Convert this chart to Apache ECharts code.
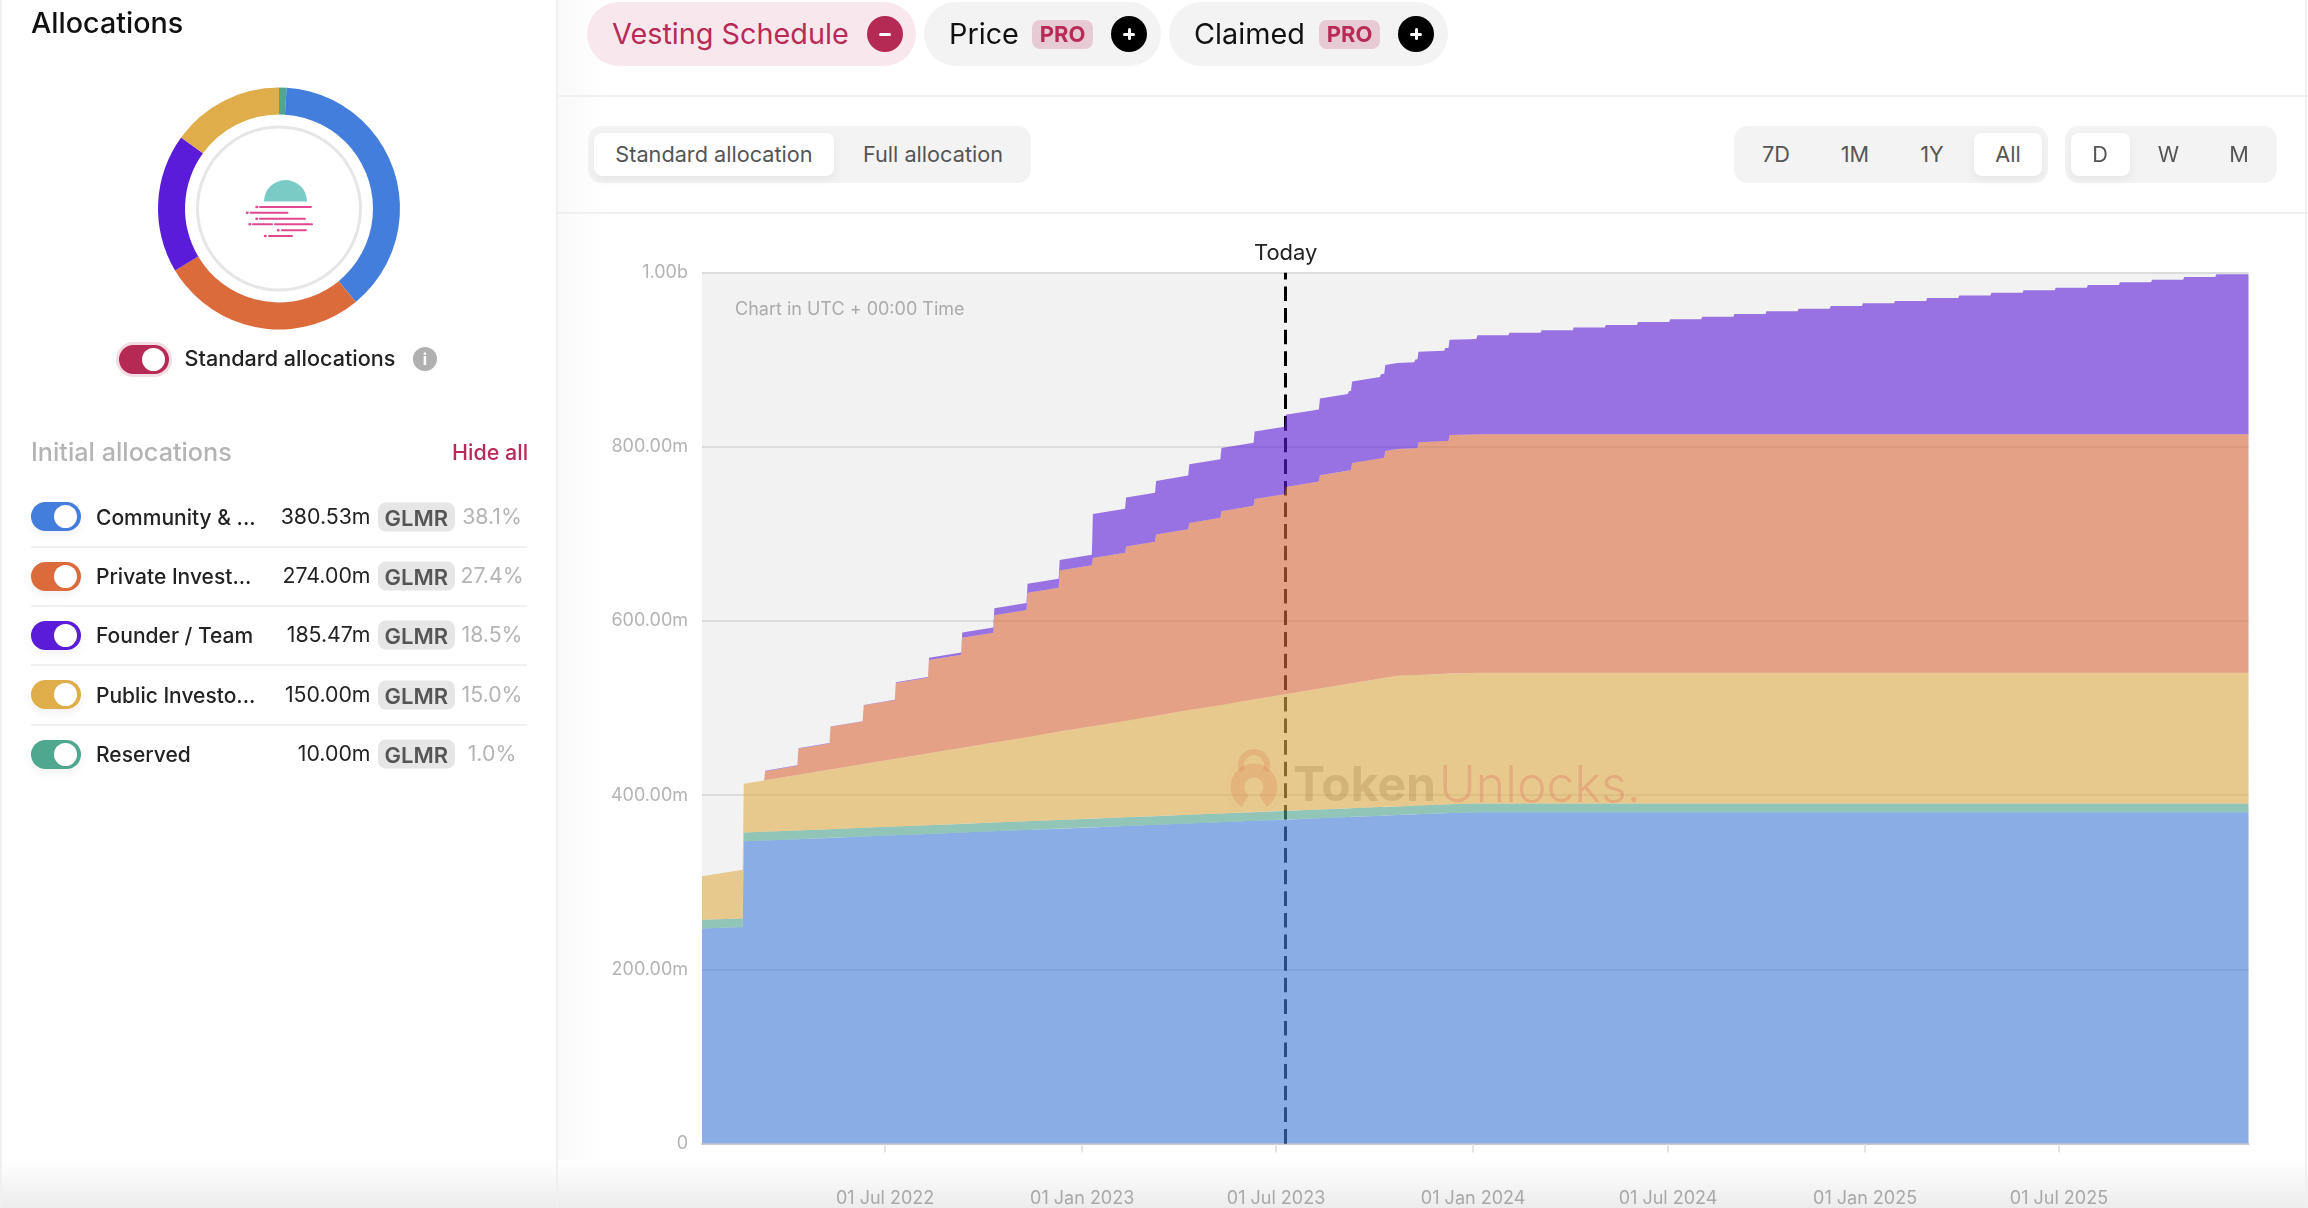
<!DOCTYPE html>
<html>
<head>
<meta charset="utf-8">
<title>Allocations</title>
<script src="https://cdn.jsdelivr.net/npm/echarts@6/dist/echarts.min.js"></script>
<style>
  html, body { margin: 0; padding: 0; background: #fff; }
  body { width: 2308px; height: 1208px; overflow: hidden; position: relative; font-family: Inter, sans-serif; color: #222; }
  #chart { position: absolute; left: 0; top: 0; width: 2308px; height: 1208px; }
  .abs { position: absolute; white-space: nowrap; }
  .mid { transform: translateY(-50%); line-height: 1; }
  .shade { position: absolute; left: 0; right: 0; top: 1160px; height: 48px; background: linear-gradient(#ffffff, #ececec); }
  .shade2 { position: absolute; left: 558px; top: 0; width: 50px; height: 1208px; background: linear-gradient(90deg, #f9f9f9, #ffffff); }
  .line { position: absolute; background: #f0f0f0; }
  .toggle { position: absolute; width: 50px; height: 29px; border-radius: 15px; box-shadow: 0 5px 8px rgba(0,0,0,.05); }
  .toggle i { position: absolute; right: 4px; top: 3px; width: 23px; height: 23px; border-radius: 50%; background: #fff; }
  .pill { position: absolute; top: 2px; height: 64px; border-radius: 32px; background: #f3f3f3; }
  .round { position: absolute; width: 36px; height: 36px; top: 16px; border-radius: 50%; background: #000; }
  .round b { position: absolute; left: 12px; top: 16.5px; width: 12px; height: 3px; background: #fff; border-radius: 2px; }
  .round u { position: absolute; left: 16.5px; top: 12px; width: 3px; height: 12px; background: #fff; border-radius: 2px; }
  .pro { position: absolute; top: 20px; height: 29px; width: 61px; border-radius: 8px; background: #e7cbd4; color: #b82b57; font-size: 22px; font-weight: 700; line-height: 29px; text-align: center; }
  .seg { position: absolute; top: 126px; height: 57px; border-radius: 14px; background: #f3f3f3; }
  .seg-on { position: absolute; top: 133px; height: 43px; border-radius: 8px; background: #fff; box-shadow: 0 4px 8px rgba(0,0,0,.06); }
  .seg-t { position: absolute; top: 154.5px; transform: translate(-50%, -50%); font-size: 21.7px; color: #555; line-height: 1; white-space: nowrap; }
  .glmr { position: absolute; left: 377.5px; width: 77.5px; height: 29px; border-radius: 8px; background: #e6e6e6; color: #555; font-size: 22px; font-weight: 600; line-height: 31px; text-align: center; transform: translateY(-50%); }
</style>
</head>
<body>
<div class="shade2"></div>
<div class="shade"></div>
<div id="chart"></div>
<div id="chrome"></div>
<script>
// values in millions of GLMR, one entry per date below
const dates = [
  '2022-01-11','2022-02-18','2022-02-19','2022-03-10','2022-03-11','2022-04-10','2022-04-11','2022-05-10','2022-05-11','2022-06-10',
  '2022-06-11','2022-07-10','2022-07-11','2022-08-10','2022-08-11','2022-09-10','2022-09-11','2022-10-10','2022-10-11','2022-11-10',
  '2022-11-11','2022-12-10','2022-12-11','2023-01-10','2023-01-11','2023-02-10','2023-02-11','2023-03-10','2023-03-11','2023-04-10',
  '2023-04-11','2023-05-10','2023-05-11','2023-06-10','2023-06-11','2023-07-09','2023-07-10','2023-08-10','2023-08-11','2023-09-06',
  '2023-09-07','2023-09-09','2023-09-10','2023-10-06','2023-10-07','2023-10-10','2023-10-11','2023-10-22','2023-11-07','2023-11-08',
  '2023-11-10','2023-11-11','2023-12-05','2023-12-06','2023-12-09','2023-12-10','2023-12-29','2024-01-04','2024-01-05','2024-02-03',
  '2024-02-04','2024-03-04','2024-03-05','2024-04-03','2024-04-04','2024-05-03','2024-05-04','2024-06-02','2024-06-03','2024-07-02',
  '2024-07-03','2024-08-01','2024-08-02','2024-08-31','2024-09-01','2024-09-30','2024-10-01','2024-10-30','2024-10-31','2024-11-29',
  '2024-11-30','2024-12-29','2024-12-30','2025-01-28','2025-01-29','2025-02-27','2025-02-28','2025-03-29','2025-03-30','2025-04-28',
  '2025-04-29','2025-05-28','2025-05-29','2025-06-27','2025-06-28','2025-07-27','2025-07-28','2025-08-26','2025-08-27','2025-09-25',
  '2025-09-26','2025-10-25','2025-10-26','2025-11-24','2025-11-25','2025-12-25'
];
const community = [
  247,248.5,347,347.9,348,349.5,349.5,350.9,351,352.5,
  352.5,353.9,354,355.5,355.5,357,357.1,358.5,358.6,360.1,
  360.1,361.5,361.6,363,363.1,364.6,364.6,365.9,366,367.5,
  367.6,369,369,370.5,370.6,371.9,372,373.5,373.6,374.8,
  374.9,375,375.1,376.3,376.4,376.5,376.6,377.1,377.9,378,
  378.1,378.1,379.3,379.4,379.5,379.6,380.2,380.5,380.53,380.53,
  380.53,380.53,380.53,380.53,380.53,380.53,380.53,380.53,380.53,380.53,
  380.53,380.53,380.53,380.53,380.53,380.53,380.53,380.53,380.53,380.53,
  380.53,380.53,380.53,380.53,380.53,380.53,380.53,380.53,380.53,380.53,
  380.53,380.53,380.53,380.53,380.53,380.53,380.53,380.53,380.53,380.53,
  380.53,380.53,380.53,380.53,380.53,380.53
];
const reserved = [
  10,10,10,10,10,10,10,10,10,10, 10,10,10,10,10,10,10,10,10,10,
  10,10,10,10,10,10,10,10,10,10, 10,10,10,10,10,10,10,10,10,10,
  10,10,10,10,10,10,10,10,10,10, 10,10,10,10,10,10,10,10,10,10,
  10,10,10,10,10,10,10,10,10,10, 10,10,10,10,10,10,10,10,10,10,
  10,10,10,10,10,10,10,10,10,10, 10,10,10,10,10,10,10,10,10,10,
  10,10,10,10,10,10
];
const publicInvestors = [
  50,56,56,58.9,59.1,63.8,63.9,68.4,68.5,73,
  73.2,77.7,77.9,82.4,82.6,87.2,87.4,91.8,92,96.6,
  96.8,101.2,101.4,106,106.2,110.8,111,115.1,115.3,119.9,
  120.1,124.5,124.7,129.3,129.5,133.8,134,138.7,138.9,142.9,
  143,143.3,143.5,147.5,147.6,148.1,148.2,150,150,150,
  150,150,150,150,150,150,150,150,150,150,
  150,150,150,150,150,150,150,150,150,150,
  150,150,150,150,150,150,150,150,150,150,
  150,150,150,150,150,150,150,150,150,150,
  150,150,150,150,150,150,150,150,150,150,
  150,150,150,150,150,150
];
const privateInvestors = [
  0,0,0,0,10.5,10.5,30,30,49,49,
  67.5,67.5,87,87,107,107,126.3,126.3,146,146,
  165.5,165.5,185,185,193,193,200,200,208,208,
  215,215,222.5,222.5,230,230,238,238,245,245,
  245,245,253,253,253,253,260.5,260.5,260.5,260.5,
  260.5,267.3,267.3,267.3,267.3,274,274,274,274,274,
  274,274,274,274,274,274,274,274,274,274,
  274,274,274,274,274,274,274,274,274,274,
  274,274,274,274,274,274,274,274,274,274,
  274,274,274,274,274,274,274,274,274,274,
  274,274,274,274,274,274
];
const founderTeam = [
  0,0,0,0,0.5,0.5,0.5,0.5,0.5,0.5,
  0.5,0.5,0.7,0.7,2.7,2.7,6.1,6.1,8,8,
  10.3,10.3,12.2,12.2,50.5,50.5,56.3,56.3,61.6,61.6,
  67.4,67.4,72.4,72.4,77.4,77.4,82.8,82.8,88.1,88.1,
  91.1,91.1,93.5,93.5,96.5,96.5,98.8,98.8,98.8,101.8,
  101.8,103.8,103.8,106.8,106.8,109.5,109.5,109.5,113.5,113.5,
  116.5,116.5,119.5,119.5,122.5,122.5,125.5,125.5,128.9,128.9,
  131.9,131.9,135,135,138,138,141.1,141.1,144.2,144.2,
  147.2,147.2,150.3,150.3,153,153,156.4,156.4,159.4,159.4,
  162.5,162.5,165.2,165.2,168.3,168.3,171.3,171.3,174.4,174.4,
  177.5,177.5,180.6,180.6,183.6,183.6
];

const tickDates = ['2022-07-01','2023-01-01','2023-07-01','2024-01-01','2024-07-01','2025-01-01','2025-07-01'];
const todayDate = '2023-07-10';

// legend table on the left
const allocNames = ['Community & ...', 'Private Invest...', 'Founder / Team', 'Public Investo...', 'Reserved'];
const allocAmounts = [380.53, 274.00, 185.47, 150.00, 10.00];
const allocPercents = ['38.1%', '27.4%', '18.5%', '15.0%', '1.0%'];
const allocColors = ['#447edc', '#dc6b3c', '#5b1cd9', '#e0ad4b', '#4fa78f'];

const months = ['Jan','Feb','Mar','Apr','May','Jun','Jul','Aug','Sep','Oct','Nov','Dec'];
const toSeries = (vals) => vals.map((v, i) => [Date.parse(dates[i]), v]);

const areaSeries = (name, vals, color) => ({
  name: name,
  type: 'line',
  stack: 'total',
  z: 3,
  symbol: 'none',
  showSymbol: false,
  silent: true,
  lineStyle: { width: 0 },
  itemStyle: { color: color },
  areaStyle: { color: color, opacity: 0.6 },
  data: toSeries(vals)
});

const chart = echarts.init(document.getElementById('chart'), null, { renderer: 'canvas' });
const tickStamps = tickDates.map(d => Date.parse(d));
const xMin = Date.parse('2022-01-11');
const xMax = Date.parse('2025-12-25');

chart.setOption({
  animation: false,
  backgroundColor: 'transparent',
  textStyle: { fontFamily: 'Inter' },
  grid: { left: 702, right: 59.5, top: 272.7, bottom: 64.5, show: true, backgroundColor: '#f2f2f2', borderWidth: 0 },
  xAxis: [
    {
      // the time axis places the data, the value axis below only draws the half-year ticks
      type: 'time',
      min: xMin,
      max: xMax,
      axisLine: { show: false },
      axisTick: { show: false },
      axisLabel: { show: false },
      splitLine: { show: false }
    },
    {
      type: 'value',
      position: 'bottom',
      min: xMin,
      max: xMax,
      axisLine: { lineStyle: { color: '#c9c9d2', width: 2 } },
      axisTick: { length: 9, lineStyle: { color: '#dcdcdc', width: 1.5 }, customValues: tickStamps },
      axisLabel: {
        customValues: tickStamps,
        margin: 46,
        fontSize: 18,
        color: '#a8a8a8',
        fontFamily: 'Inter',
        formatter: (v) => {
          const d = new Date(v);
          return '01 ' + months[d.getUTCMonth()] + ' ' + d.getUTCFullYear();
        }
      },
      splitLine: { show: false }
    }
  ],
  yAxis: {
    type: 'value',
    min: 0,
    max: 1000,
    interval: 200,
    axisLine: { show: false },
    axisTick: { show: false },
    axisLabel: {
      margin: 14,
      fontSize: 18,
      color: '#b4b4b4',
      fontFamily: 'Inter',
      padding: [5, 0, 0, 0],
      formatter: (v) => (v === 0 ? '0' : v === 1000 ? '1.00b' : v.toFixed(2) + 'm')
    },
    splitLine: { show: true, lineStyle: { color: '#dcdcdc', width: 2 } }
  },
  series: [
    areaSeries('Community', community, allocColors[0]),
    areaSeries('Reserved', reserved, allocColors[4]),
    areaSeries('Public Investors', publicInvestors, allocColors[3]),
    areaSeries('Private Investors', privateInvestors, allocColors[1]),
    areaSeries('Founder / Team', founderTeam, allocColors[2]),
    {
      // carries the today marker, drawn under the areas
      type: 'line',
      z: 1,
      silent: true,
      symbol: 'none',
      data: [],
      markLine: {
        z: 1,
        silent: true,
        symbol: 'none',
        animation: false,
        lineStyle: { color: '#000', width: 3, type: [14.6, 7], opacity: 1 },
        label: { show: true, position: 'end', distance: 8, formatter: 'Today', fontSize: 22, color: '#222', fontFamily: 'Inter' },
        data: [{ xAxis: Date.parse(todayDate) }]
      }
    },
    {
      type: 'pie',
      center: [279, 208.5],
      radius: [94, 121],
      startAngle: 90,
      silent: true,
      label: { show: false },
      labelLine: { show: false },
      data: [4, 0, 1, 2, 3].map(i => ({ name: allocNames[i], value: allocAmounts[i], itemStyle: { color: allocColors[i] } }))
    }
  ],
  graphic: [
    { type: 'ring', shape: { cx: 279, cy: 208.5, r: 83, r0: 80 }, style: { fill: '#e6e6e6' } },
    { type: 'text', x: 735, y: 310, style: { text: 'Chart in UTC + 00:00 Time', fontSize: 18, fontFamily: 'Inter', fill: '#ababab', textVerticalAlign: 'middle' } },
    // watermark: lock, then the wordmark
    { type: 'sector', z: 50, shape: { cx: 1254, cy: 765, r: 16, r0: 10, startAngle: Math.PI * 0.85, endAngle: Math.PI * 2.15 }, style: { fill: 'rgba(222,140,90,.35)' } },
    { type: 'sector', z: 50, shape: { cx: 1254, cy: 787, r: 23.5, r0: 9.5, startAngle: Math.PI * 0.68, endAngle: Math.PI * 2.32 }, style: { fill: 'rgba(222,140,90,.35)' } },
    { type: 'ring', z: 50, shape: { cx: 1254, cy: 787, r: 28, r0: 27 }, style: { fill: 'rgba(222,140,90,.1)' } },
    { type: 'text', z: 50, x: 1293, y: 787, style: { text: 'Token', fontSize: 48, fontWeight: 700, fontFamily: 'Inter', fill: 'rgba(170,130,70,.3)', textVerticalAlign: 'middle' } },
    { type: 'text', z: 50, x: 1439, y: 787, style: { text: 'Unlocks.', fontSize: 50, fontWeight: 300, fontFamily: 'Inter', fill: 'rgba(225,130,100,.4)', textVerticalAlign: 'middle' } }
  ]
});

// page furniture around the chart
const chrome = document.getElementById('chrome');
const put = (html) => chrome.insertAdjacentHTML('beforeend', html);
const text = (str, x, y, size, color, weight, extra) =>
  put(`<div class="abs mid" style="left:${x}px;top:${y}px;font-size:${size}px;color:${color};font-weight:${weight || 400};${extra || ''}">${str}</div>`);
const rule = (x, y, w, h) => put(`<div class="line" style="left:${x}px;top:${y}px;width:${w}px;height:${h}px"></div>`);

rule(0, 0, 2, 1208);
rule(556, 0, 2, 1208);
rule(2305, 0, 2, 1208);
rule(558, 95, 1750, 2);
rule(558, 212, 1750, 2);

text('Allocations', 31, 23, 28.7, '#111', 500);

// moonbeam logo in the middle of the donut
put(`<svg class="abs" style="left:0;top:0" width="560" height="300">
  <path d="M264 201.5a21.5 21.5 0 0 1 43 0z" fill="#7acbc5"/>
  <g stroke="#e1488f" stroke-width="2" stroke-linecap="round">
    <path d="M260 207h51M250.500 212.700h37M260 218.700h45M253 224.300h19M275 224.300h37M282 230.300h24M269 236h23"/>
    <path d="M256.500 207h.5M247 212.700h.5M256.500 218.700h.5M249.500 224.300h.5M278 230.300h.5M265 236h.5" stroke-width="2.500"/>
  </g>
</svg>`);

put(`<div class="toggle" style="left:119px;top:344.500px;background:#b42a55;box-shadow:0 0 0 3px #f3dde4"><i></i></div>`);
text('Standard allocations', 184.5, 359, 21.6, '#222', 500);
put(`<div class="abs" style="left:413px;top:346.500px;width:24px;height:24px;border-radius:50%;background:#b0b0b0;color:#fff;font-size:16px;font-weight:700;line-height:24px;text-align:center">i</div>`);

text('Initial allocations', 31, 453, 25.2, '#b4b4b4', 500);
text('Hide all', 452, 452.5, 21.5, '#b82b57', 500);

const rowY = [516.7, 576, 635.3, 694.7, 754.3];
allocNames.forEach((name, i) => {
  const y = rowY[i];
  put(`<div class="toggle" style="left:31px;top:${y - 14.5}px;background:${allocColors[i]}"><i></i></div>`);
  text(name, 96, y, 21, '#222', 500);
  text(allocAmounts[i].toFixed(2) + 'm', 370.5, y, 21.3, '#222', 400, 'transform:translate(-100%,-50%)');
  put(`<div class="glmr" style="top:${y}px">GLMR</div>`);
  text(allocPercents[i], 492, y, 21.3, '#b4b4b4', 400, 'transform:translate(-50%,-50%)');
  if (i < 4) rule(31, y + 29, 496, 2);
});

// series pills
const pill = (x, w, bg) => put(`<div class="pill" style="left:${x}px;width:${w}px;background:${bg}"></div>`);
const circle = (x, color, plus) => put(`<div class="round" style="left:${x}px;background:${color}"><b></b>${plus ? '<u></u>' : ''}</div>`);
const pro = (x) => put(`<div class="pro" style="left:${x}px">PRO</div>`);
pill(587, 329, '#f8e8ed');
text('Vesting Schedule', 612, 33.5, 28.8, '#b82b57', 400);
circle(866.5, '#b42a55', false);
pill(924, 237, '#f3f3f3');
text('Price', 949, 33.5, 28.8, '#111', 400);
pro(1032);
circle(1111, '#000', true);
pill(1168.5, 279.5, '#f3f3f3');
text('Claimed', 1194, 33.5, 28.8, '#111', 400);
pro(1319);
circle(1398, '#000', true);

// range switches
const seg = (x, w) => put(`<div class="seg" style="left:${x}px;width:${w}px"></div>`);
const segOn = (x, w) => put(`<div class="seg-on" style="left:${x}px;width:${w}px"></div>`);
const segText = (str, x) => put(`<div class="seg-t" style="left:${x}px">${str}</div>`);
seg(587.5, 443.5);
segOn(594, 240);
segText('Standard allocation', 714);
segText('Full allocation', 933);
seg(1734, 314);
segOn(1974, 68);
segText('7D', 1776);
segText('1M', 1855);
segText('1Y', 1932);
segText('All', 2008);
seg(2064.5, 212);
segOn(2071, 58.5);
segText('D', 2100);
segText('W', 2168.5);
segText('M', 2239);
</script>
</body>
</html>
